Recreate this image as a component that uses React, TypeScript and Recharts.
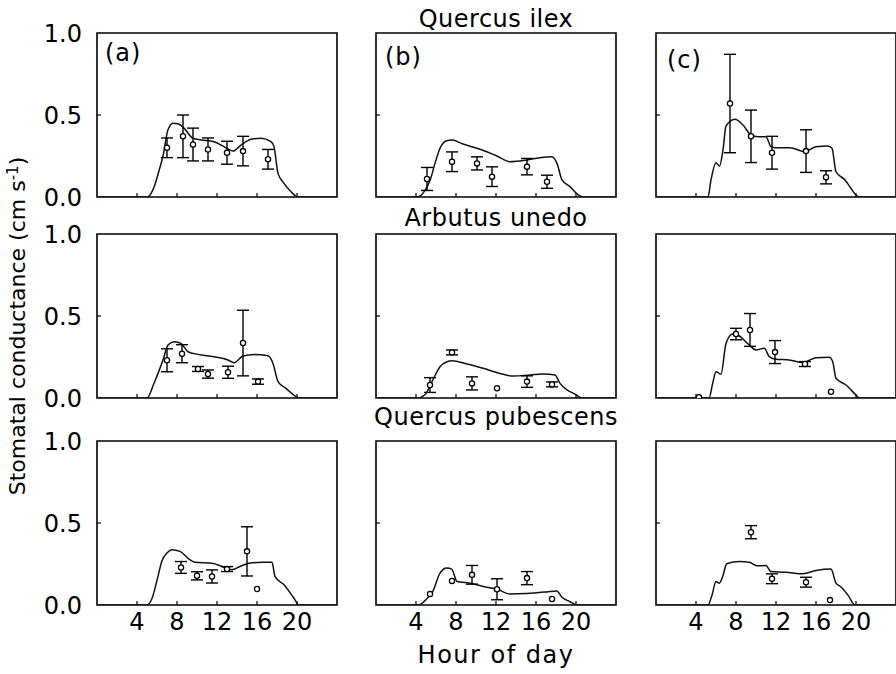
import React from "react";
import {
  ComposedChart,
  Line,
  Scatter,
  XAxis,
  YAxis,
  ReferenceArea,
  ReferenceLine,
  ErrorBar,
} from "recharts";

// ── Data: modelled curves [hour, g] and measurements [hour, g, ±err] ──

const HOUR_TICKS = [4, 8, 12, 16, 20];
const G_TICKS = [0, 0.5, 1];
const SPECIES = ["Quercus ilex", "Arbutus unedo", "Quercus pubescens"];
const PANEL_TAGS = ["(a)", "(b)", "(c)"];

const ilexModelA = [
  [0, 0], [5.0, 0], [5.7, 0.06], [6.2, 0.16], [6.6, 0.25], [7.1, 0.41], [7.6, 0.45], [8.1, 0.447],
  [8.7, 0.42], [9.6, 0.358], [10.4, 0.348], [11.7, 0.337], [12.7, 0.307], [13.6, 0.28], [14.4, 0.317],
  [15.4, 0.352], [16.4, 0.358], [17.4, 0.337], [17.7, 0.307], [18.1, 0.144], [18.7, 0.083],
  [19.4, 0.032], [20.1, 0], [24, 0],
];
const ilexObsA = [
  [7.0, 0.30, 0.06], [8.6, 0.37, 0.13], [9.6, 0.32, 0.10], [11.1, 0.29, 0.07],
  [13.0, 0.27, 0.07], [14.6, 0.28, 0.09], [17.1, 0.23, 0.06],
];

const ilexModelB = [
  [0, 0], [4.0, 0], [4.5, 0.01], [4.9, 0.04], [5.4, 0.10], [5.9, 0.205], [6.4, 0.297], [7.07, 0.343],
  [7.6, 0.347], [8.7, 0.323], [10.4, 0.291], [12.1, 0.25], [13.4, 0.215], [15.1, 0.226], [16.4, 0.24],
  [17.6, 0.246], [18.1, 0.205], [18.6, 0.104], [19.4, 0.063], [20.2, 0.014], [20.7, 0], [24, 0],
];
const ilexObsB = [
  [5.1, 0.11, 0.07], [7.6, 0.215, 0.06], [10.1, 0.205, 0.04], [11.6, 0.124, 0.06],
  [15.1, 0.185, 0.05], [17.1, 0.093, 0.04],
];

const ilexModelC = [
  [0, 0], [5.2, 0], [5.5, 0.104], [6.0, 0.209], [6.35, 0.189], [6.7, 0.287], [7.0, 0.433], [7.9, 0.474],
  [8.7, 0.439], [9.5, 0.378], [10.2, 0.368], [11.0, 0.368], [11.5, 0.307], [12.0, 0.30], [13.4, 0.30],
  [14.9, 0.276], [16.0, 0.307], [17.2, 0.311], [17.6, 0.297], [18.0, 0.154], [18.9, 0.104],
  [19.5, 0.053], [20.0, 0.012], [20.3, 0], [24, 0],
];
const ilexObsC = [
  [7.4, 0.57, 0.30], [9.5, 0.37, 0.16], [11.6, 0.27, 0.10], [15.0, 0.28, 0.13], [17.0, 0.12, 0.04],
];

const arbutusModelA = [
  [0, 0], [5.0, 0], [5.7, 0.09], [6.6, 0.232], [7.1, 0.323], [7.7, 0.343], [8.4, 0.333], [9.1, 0.282],
  [10.1, 0.266], [11.7, 0.252], [13.1, 0.232], [13.7, 0.215], [14.6, 0.256], [15.7, 0.266],
  [17.1, 0.258], [17.6, 0.211], [18.1, 0.10], [18.9, 0.059], [19.9, 0.008], [20.2, 0], [24, 0],
];
const arbutusObsA = [
  [7.0, 0.23, 0.07], [8.5, 0.27, 0.055], [10.1, 0.177, 0.015], [11.1, 0.146, 0.025],
  [13.1, 0.157, 0.037], [14.6, 0.335, 0.20], [16.1, 0.10, 0.016],
];

const arbutusModelB = [
  [0, 0], [4.1, 0], [4.9, 0.02], [5.6, 0.10], [6.4, 0.191], [7.1, 0.221], [7.6, 0.227], [9.1, 0.207],
  [10.7, 0.181], [12.4, 0.15], [13.7, 0.134], [15.4, 0.14], [16.7, 0.146], [17.9, 0.14], [18.4, 0.089],
  [19.1, 0.049], [19.9, 0.024], [20.4, 0.004], [20.6, 0], [24, 0],
];
const arbutusObsB = [
  [5.4, 0.079, 0.045], [7.6, 0.278, 0.015], [9.6, 0.089, 0.04], [12.1, 0.059, 0],
  [15.1, 0.10, 0.035], [17.6, 0.083, 0.015],
];

const arbutusModelC = [
  [0, 0], [5.3, 0], [5.67, 0.09], [6.0, 0.16], [6.5, 0.145], [7.0, 0.333], [7.67, 0.39], [8.33, 0.378],
  [9.33, 0.323], [10.0, 0.293], [10.83, 0.303], [11.33, 0.252], [12.0, 0.236], [13.33, 0.232],
  [14.67, 0.215], [16.0, 0.246], [17.33, 0.248], [17.67, 0.221], [18.0, 0.12], [19.0, 0.079],
  [20.0, 0.018], [20.3, 0], [24, 0],
];
const arbutusObsC = [
  [4.3, 0.005, 0], [8.0, 0.39, 0.035], [9.4, 0.415, 0.10], [11.9, 0.28, 0.07],
  [14.9, 0.207, 0.015], [17.5, 0.038, 0],
];

const pubescensModelA = [
  [0, 0], [5.0, 0], [5.5, 0.04], [6.0, 0.15], [6.5, 0.27], [7.0, 0.317], [7.5, 0.337], [8.3, 0.327],
  [9.2, 0.28], [9.8, 0.26], [11.5, 0.254], [12.5, 0.235], [13.5, 0.215], [14.3, 0.235], [15.2, 0.254],
  [16.5, 0.26], [17.5, 0.26], [17.8, 0.174], [18.7, 0.123], [19.7, 0.041], [20.2, 0], [24, 0],
];
const pubescensObsA = [
  [8.4, 0.229, 0.036], [10.0, 0.178, 0.025], [11.5, 0.174, 0.04], [13.0, 0.219, 0.015],
  [15.0, 0.327, 0.15], [16.0, 0.098, 0],
];

const pubescensModelB = [
  [0, 0], [4.1, 0], [4.6, 0.01], [5.1, 0.04], [5.6, 0.072], [6.4, 0.194], [7.07, 0.225], [7.57, 0.219],
  [8.1, 0.143], [9.4, 0.133], [11.07, 0.108], [12.07, 0.098], [13.4, 0.067], [15.07, 0.07],
  [17.07, 0.08], [18.07, 0.086], [18.57, 0.049], [19.4, 0.02], [20.1, 0], [24, 0],
];
const pubescensObsB = [
  [5.4, 0.067, 0], [7.6, 0.147, 0], [9.6, 0.184, 0.057], [12.1, 0.096, 0.064],
  [15.1, 0.164, 0.04], [17.6, 0.037, 0],
];

const pubescensModelC = [
  [0, 0], [5.2, 0], [5.6, 0.06], [6.0, 0.143], [6.33, 0.133], [6.67, 0.174], [7.07, 0.252],
  [8.33, 0.266], [9.33, 0.26], [10.17, 0.239], [11.0, 0.241], [11.5, 0.204], [13.0, 0.2],
  [14.67, 0.19], [16.0, 0.21], [17.5, 0.219], [18.0, 0.133], [18.5, 0.11], [19.2, 0.06], [19.9, 0], [24, 0],
];
const pubescensObsC = [
  [9.5, 0.444, 0.04], [11.6, 0.16, 0.03], [15.0, 0.139, 0.03], [17.4, 0.03, 0],
];

// ── Layout ───────────────────────────────────────────────────────────

const COL_LEFT = [97, 376, 656];
const ROW_TOP = [33, 234, 441];
const PLOT_W = 240;
const PLOT_H = 164;
const AXIS_W = 90;
const AXIS_H = 40;
const PAD_TOP = 24;
const PAD_RIGHT = 10;
const FONT = "'DejaVu Sans', sans-serif";

const tickStyle = { fill: "#000", fontSize: 24, fontFamily: FONT } as const;

const toModel = (rows: number[][]) => rows.map(([h, g]) => ({ h, g }));
const toObs = (rows: number[][]) => rows.map(([h, g, e]) => ({ h, g, e }));

const GRID = [
  [ilexModelA, ilexObsA, ilexModelB, ilexObsB, ilexModelC, ilexObsC],
  [arbutusModelA, arbutusObsA, arbutusModelB, arbutusObsB, arbutusModelC, arbutusObsC],
  [pubescensModelA, pubescensObsA, pubescensModelB, pubescensObsB, pubescensModelC, pubescensObsC],
];

function OpenDot(props: any) {
  if (props.cx == null || props.cy == null) return null;
  return <circle cx={props.cx} cy={props.cy} r={2.6} fill="#fff" stroke="#000" strokeWidth={1.3} />;
}

function Panel({ row, col }: { row: number; col: number }) {
  const model = toModel(GRID[row][col * 2]);
  const measured = toObs(GRID[row][col * 2 + 1]);
  const showY = col === 0;
  const showX = row === 2;
  return (
    <div style={{ position: "absolute", left: COL_LEFT[col] - AXIS_W, top: ROW_TOP[row] - PAD_TOP }}>
      <ComposedChart
        width={AXIS_W + PLOT_W + PAD_RIGHT}
        height={PAD_TOP + PLOT_H + AXIS_H}
        margin={{ top: PAD_TOP, right: PAD_RIGHT, bottom: 0, left: 0 }}
      >
        <XAxis
          type="number"
          dataKey="h"
          domain={[0, 24]}
          ticks={HOUR_TICKS}
          interval={0}
          allowDataOverflow
          axisLine={false}
          tickLine={false}
          height={AXIS_H}
          tick={showX ? tickStyle : false}
        />
        <YAxis
          type="number"
          domain={[0, 1]}
          ticks={G_TICKS}
          interval={0}
          allowDataOverflow
          axisLine={false}
          tickLine={false}
          width={AXIS_W}
          tickMargin={9}
          tickFormatter={(v: number) => v.toFixed(1)}
          tick={showY ? tickStyle : false}
        />
        <ReferenceArea x1={0} x2={24} y1={0} y2={1} fill="none" fillOpacity={0} stroke="#000" strokeWidth={1.6} />
        {/* inward tick marks */}
        {HOUR_TICKS.map((h) => (
          <ReferenceLine key={h} segment={[{ x: h, y: 0 }, { x: h, y: 0.025 }]} stroke="#000" strokeWidth={1.2} />
        ))}
        <ReferenceLine segment={[{ x: 0, y: 0.5 }, { x: 0.4, y: 0.5 }]} stroke="#000" strokeWidth={1.2} />
        <Line
          data={model}
          dataKey="g"
          type="monotone"
          stroke="#111"
          strokeWidth={1.5}
          dot={false}
          activeDot={false}
          isAnimationActive={false}
        />
        <Scatter data={measured} dataKey="g" shape={OpenDot} isAnimationActive={false}>
          <ErrorBar dataKey="e" direction="y" width={6} stroke="#000" strokeWidth={1.4} />
        </Scatter>
      </ComposedChart>
    </div>
  );
}

const TITLE_TOP = [7, 206, 405];
const TAG_POS = [
  { left: 105, top: 41 },
  { left: 385, top: 45 },
  { left: 667, top: 48 },
];

export default function App() {
  return (
    <div
      style={{
        position: "fixed",
        left: 0,
        top: 0,
        width: 896,
        height: 674,
        background: "#fff",
        overflow: "hidden",
        fontFamily: FONT,
        color: "#000",
      }}
    >
      {[0, 1, 2].map((r) => [0, 1, 2].map((c) => <Panel key={`${r}-${c}`} row={r} col={c} />))}

      {SPECIES.map((name, i) => (
        <div
          key={name}
          style={{
            position: "absolute",
            left: 296,
            width: 400,
            top: TITLE_TOP[i],
            textAlign: "center",
            fontSize: 24,
            lineHeight: "24px",
            letterSpacing: 0.5,
            whiteSpace: "pre",
          }}
        >
          {name}
        </div>
      ))}

      {PANEL_TAGS.map((tag, i) => (
        <div
          key={tag}
          style={{ position: "absolute", ...TAG_POS[i], fontSize: 24, lineHeight: "24px", letterSpacing: 1 }}
        >
          {tag}
        </div>
      ))}

      <div
        style={{
          position: "absolute",
          left: 18,
          top: 326,
          transform: "translate(-50%, -50%) rotate(-90deg)",
          fontSize: 22,
          lineHeight: "24px",
          whiteSpace: "nowrap",
        }}
      >
        Stomatal conductance (cm s<sup style={{ fontSize: 15, verticalAlign: "7px", lineHeight: 0 }}>-1</sup>)
      </div>

      <div
        style={{
          position: "absolute",
          left: 296,
          width: 400,
          top: 643,
          textAlign: "center",
          fontSize: 24,
          lineHeight: "24px",
          letterSpacing: 1.5,
          whiteSpace: "pre",
        }}
      >
        Hour of day
      </div>
    </div>
  );
}
